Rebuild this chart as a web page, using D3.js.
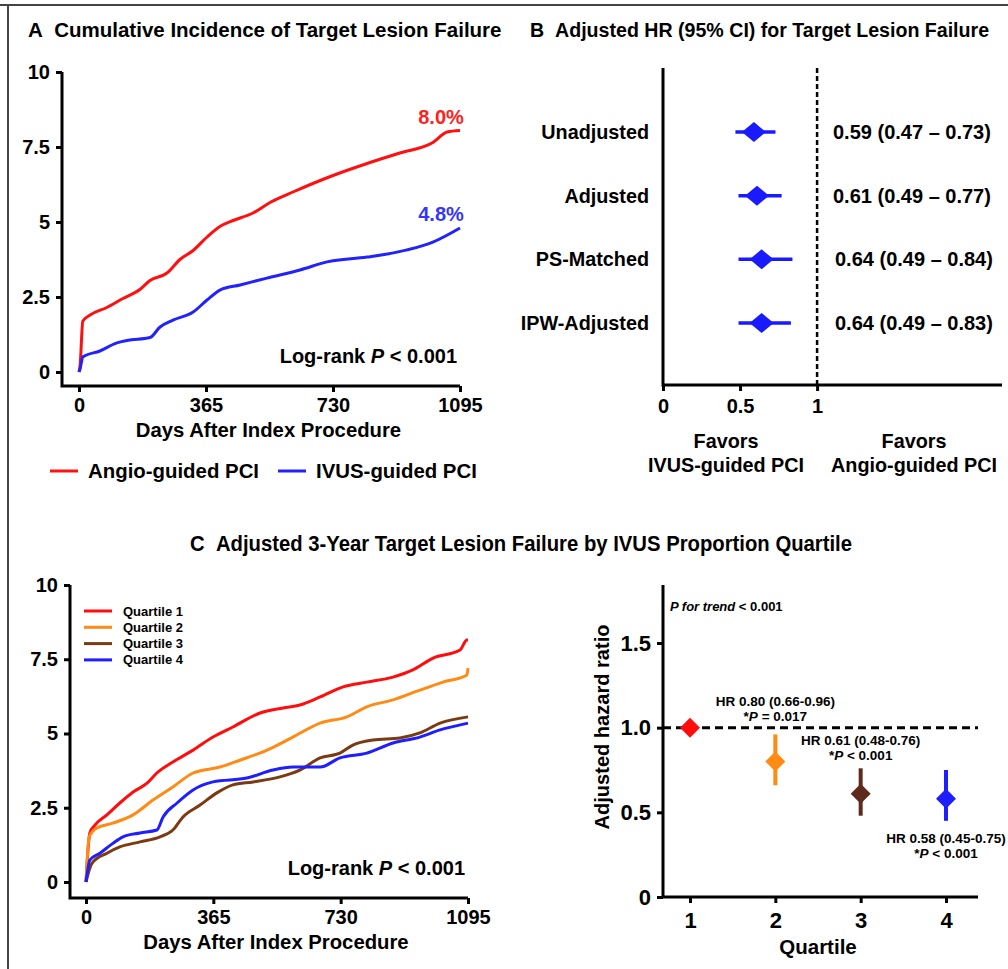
<!DOCTYPE html>
<html>
<head>
<meta charset="utf-8">
<script src="https://cdn.jsdelivr.net/npm/d3@7/dist/d3.min.js"></script>
<style>
  body { margin: 0; background: #fff; }
  svg { display: block; font-family: "Liberation Sans", Arial, sans-serif; font-weight: bold; }
  .axis path { display: none; }
  .axis line { stroke: #000; stroke-width: 3; }
  .axis text { fill: #000; font-weight: bold; }
</style>
</head>
<body>
<svg id="chart"></svg>
<script>
// ---- data ----
const angioDays = [0, 3, 11, 32, 80, 126, 175, 204, 253, 290, 328, 368, 405, 443, 500, 549, 615, 730, 828, 922, 1017, 1058, 1095];
const angioTLF = [0, 0.2, 1.7, 1.9, 2.15, 2.45, 2.75, 3.05, 3.3, 3.75, 4.05, 4.5, 4.85, 5.05, 5.3, 5.65, 6.0, 6.55, 6.95, 7.3, 7.65, 8.0, 8.05];
const ivusDays = [0, 3, 11, 60, 109, 138, 204, 233, 270, 328, 368, 405, 463, 540, 635, 713, 828, 943, 1017, 1095];
const ivusTLF = [0, 0.1, 0.5, 0.7, 0.97, 1.05, 1.15, 1.5, 1.73, 2.0, 2.4, 2.73, 2.9, 3.13, 3.4, 3.67, 3.83, 4.07, 4.33, 4.8];

const forestLabels = ['Unadjusted', 'Adjusted', 'PS-Matched', 'IPW-Adjusted'];
const forestHR = [0.59, 0.61, 0.64, 0.64];
const forestLo = [0.47, 0.49, 0.49, 0.49];
const forestHi = [0.73, 0.77, 0.84, 0.83];

const quartileNames = ['Quartile 1', 'Quartile 2', 'Quartile 3', 'Quartile 4'];
const quartileColors = ['#ff0d0d', '#ff8a14', '#7a3b12', '#1e1eff'];
const q1Days = [0, 11, 26, 60, 97, 135, 175, 203, 249, 307, 364, 421, 499, 565, 613, 671, 737, 805, 880, 937, 995, 1072, 1092, 1095];
const q1TLF = [0, 1.65, 1.92, 2.26, 2.66, 3.03, 3.33, 3.67, 4.04, 4.44, 4.88, 5.22, 5.69, 5.86, 5.96, 6.23, 6.57, 6.73, 6.9, 7.14, 7.54, 7.81, 8.15, 8.15];
const q2Days = [0, 9, 31, 77, 135, 192, 249, 307, 384, 441, 519, 593, 671, 748, 805, 880, 957, 1023, 1092, 1095];
const q2TLF = [0, 1.52, 1.82, 1.98, 2.26, 2.76, 3.2, 3.67, 3.87, 4.1, 4.44, 4.88, 5.35, 5.56, 5.9, 6.13, 6.46, 6.73, 6.97, 7.2];
const q3Days = [0, 17, 60, 97, 155, 212, 249, 278, 327, 375, 421, 479, 556, 613, 671, 728, 765, 823, 900, 957, 1015, 1095];
const q3TLF = [0, 0.63, 0.97, 1.18, 1.35, 1.52, 1.75, 2.19, 2.59, 3.0, 3.27, 3.37, 3.54, 3.77, 4.18, 4.34, 4.61, 4.78, 4.85, 5.02, 5.35, 5.56];
const q4Days = [0, 11, 40, 77, 106, 155, 203, 221, 261, 307, 364, 461, 536, 593, 671, 728, 805, 880, 957, 1015, 1095];
const q4TLF = [0, 0.74, 0.97, 1.3, 1.52, 1.65, 1.75, 2.19, 2.66, 3.1, 3.37, 3.5, 3.77, 3.87, 3.87, 4.18, 4.34, 4.68, 4.88, 5.12, 5.35];

const quartiles = [1, 2, 3, 4];
const quartileHR = [1.0, 0.80, 0.61, 0.58];
const quartileLo = [null, 0.66, 0.48, 0.45];
const quartileHi = [null, 0.96, 0.76, 0.75];
const quartileNotes = [null, ['HR 0.80 (0.66-0.96)', ' = 0.017'], ['HR 0.61 (0.48-0.76)', ' < 0.001'], ['HR 0.58 (0.45-0.75)', ' < 0.001']];

const dayTicks = [0, 365, 730, 1095];
const pctTicks = [0, 2.5, 5, 7.5, 10];

// ---- page ----
let width = 1008, height = 969;
let svg = d3.select('#chart').attr('width', width).attr('height', height);
svg.append('rect').attr('width', width).attr('height', height).attr('fill', '#fff');
// frame
svg.append('line').attr('x1', 0).attr('x2', width).attr('y1', 5).attr('y2', 5).attr('stroke', '#444').attr('stroke-width', 2);
svg.append('line').attr('x1', 8).attr('x2', 8).attr('y1', 5).attr('y2', height).attr('stroke', '#444').attr('stroke-width', 2);

function frameAxes(g, x0, yTop, yBase, xRight) {
  g.append('path')
    .attr('d', `M${x0},${yTop}V${yBase}H${xRight}`)
    .attr('fill', 'none').attr('stroke', '#000').attr('stroke-width', 3);
}

function kmPanel(opt) {
  let x = d3.scaleLinear().domain([0, 1095]).range(opt.xRange),
    y = d3.scaleLinear().domain([0, 10]).range(opt.yRange);
  let g = svg.append('g');
  g.append('g').attr('class', 'axis')
    .attr('transform', `translate(${opt.axisX},0)`)
    .call(d3.axisLeft(y).tickValues(pctTicks).tickSize(6).tickPadding(6).tickFormat(d => String(d)))
    .selectAll('text').style('font-size', '20px');
  g.append('g').attr('class', 'axis')
    .attr('transform', `translate(0,${opt.axisY})`)
    .call(d3.axisBottom(x).tickValues(dayTicks).tickSize(6).tickPadding(6).tickFormat(d => String(d)))
    .selectAll('text').style('font-size', '20px');
  frameAxes(g, opt.axisX, opt.yRange[1], opt.axisY, opt.xRange[1]);
  let line = d3.line().x(d => x(d[0])).y(d => y(d[1])).curve(d3.curveMonotoneX);
  opt.series.forEach(s => {
    g.append('path')
      .datum(d3.zip(s.days, s.vals))
      .attr('d', line)
      .attr('fill', 'none')
      .attr('stroke', s.color)
      .attr('stroke-width', 3)
      .attr('stroke-linejoin', 'round');
  });
  g.append('text')
    .attr('x', (opt.xRange[0] + opt.xRange[1]) / 2 - 1)
    .attr('y', opt.axisY + 51)
    .attr('text-anchor', 'middle')
    .style('font-size', '20.3px')
    .text('Days After Index Procedure');
  let lr = g.append('text')
    .attr('x', opt.xRange[1] - 3)
    .attr('y', opt.logRankY)
    .attr('text-anchor', 'end')
    .style('font-size', '20px');
  lr.append('tspan').text('Log-rank ');
  lr.append('tspan').style('font-style', 'italic').text('P');
  lr.append('tspan').text(' < 0.001');
  return { x: x, y: y, g: g };
}

// ---- panel A ----
svg.append('text').attr('x', 28).attr('y', 37).style('font-size', '20.5px')
  .text('A\u00a0\u00a0Cumulative Incidence of Target Lesion Failure');

let panelA = kmPanel({
  xRange: [79, 460], yRange: [372, 72], axisX: 62, axisY: 386, logRankY: 363,
  series: [
    { days: angioDays, vals: angioTLF, color: '#ff1010' },
    { days: ivusDays, vals: ivusTLF, color: '#2222ff' }
  ]
});
panelA.g.append('text')
  .attr('x', panelA.x(1095) - 19).attr('y', panelA.y(angioTLF[angioTLF.length - 1]) - 7)
  .attr('text-anchor', 'middle').attr('fill', '#ff2020').style('font-size', '20px')
  .text('8.0%');
panelA.g.append('text')
  .attr('x', panelA.x(1095) - 19).attr('y', panelA.y(ivusTLF[ivusTLF.length - 1]) - 7)
  .attr('text-anchor', 'middle').attr('fill', '#3535ff').style('font-size', '20px')
  .text('4.8%');

let legA = svg.append('g');
[['Angio-guided PCI', '#ff1010', 50], ['IVUS-guided PCI', '#2222ff', 278]].forEach(l => {
  legA.append('line').attr('x1', l[2]).attr('x2', l[2] + 28).attr('y1', 471).attr('y2', 471)
    .attr('stroke', l[1]).attr('stroke-width', 3);
  legA.append('text').attr('x', l[2] + 38).attr('y', 478).style('font-size', '20.4px').text(l[0]);
});

// ---- panel B ----
svg.append('text').attr('x', 530).attr('y', 37).style('font-size', '19.6px')
  .text('B\u00a0\u00a0Adjusted HR (95% CI) for Target Lesion Failure');

let xB = d3.scaleLinear().domain([0, 2.2]).range([663, 1002]),
  yB = d3.scalePoint().domain(forestLabels).range([132, 323]);
let gB = svg.append('g');
gB.append('g').attr('class', 'axis')
  .attr('transform', 'translate(0,385)')
  .call(d3.axisBottom(xB).tickValues([0, 0.5, 1]).tickSize(6).tickPadding(8).tickFormat(d => String(d)))
  .selectAll('text').style('font-size', '20px');
frameAxes(gB, xB(0), 68, 385, xB(2.2));
gB.append('line').attr('x1', xB(1)).attr('x2', xB(1)).attr('y1', 68).attr('y2', 385)
  .attr('stroke', '#000').attr('stroke-width', 2.5).attr('stroke-dasharray', '5,3');

forestLabels.forEach((lab, i) => {
  let cy = yB(lab), cx = xB(forestHR[i]);
  gB.append('text').attr('x', 649).attr('y', cy + 7).attr('text-anchor', 'end')
    .style('font-size', '19.8px').text(lab);
  gB.append('line').attr('x1', xB(forestLo[i])).attr('x2', xB(forestHi[i]))
    .attr('y1', cy).attr('y2', cy).attr('stroke', '#1a1aff').attr('stroke-width', 3.5);
  gB.append('path').attr('d', `M${cx - 12},${cy}L${cx},${cy - 10}L${cx + 12},${cy}L${cx},${cy + 10}Z`)
    .attr('fill', '#1a1aff');
  gB.append('text').attr('x', i >= 2 ? 835 : 833).attr('y', cy + 7).style('font-size', '20px')
    .text(`${forestHR[i].toFixed(2)} (${forestLo[i].toFixed(2)} \u2013 ${forestHi[i].toFixed(2)})`);
});
[['Favors', 'IVUS-guided PCI', 726], ['Favors', 'Angio-guided PCI', 914]].forEach(f => {
  let t = gB.append('text').attr('text-anchor', 'middle').style('font-size', '19.8px');
  t.append('tspan').attr('x', f[2]).attr('y', 448).text(f[0]);
  t.append('tspan').attr('x', f[2]).attr('y', 472).text(f[1]);
});

// ---- panel C ----
svg.append('text').attr('x', 190).attr('y', 551)
  .attr('textLength', 662).attr('lengthAdjust', 'spacingAndGlyphs')
  .style('font-size', '21.5px')
  .text('C\u00a0\u00a0Adjusted 3-Year Target Lesion Failure by IVUS Proportion Quartile');

let panelC = kmPanel({
  xRange: [86, 468], yRange: [882, 585], axisX: 70, axisY: 898, logRankY: 875,
  series: [
    { days: q1Days, vals: q1TLF, color: quartileColors[0] },
    { days: q2Days, vals: q2TLF, color: quartileColors[1] },
    { days: q3Days, vals: q3TLF, color: quartileColors[2] },
    { days: q4Days, vals: q4TLF, color: quartileColors[3] }
  ]
});
quartileNames.forEach((n, i) => {
  let yy = 611 + i * 16.3;
  panelC.g.append('line').attr('x1', 84).attr('x2', 112).attr('y1', yy).attr('y2', yy)
    .attr('stroke', quartileColors[i]).attr('stroke-width', 3);
  panelC.g.append('text').attr('x', 123).attr('y', yy + 4.5).style('font-size', '13px').text(n);
});

// ---- panel C right: HR by quartile ----
let xQ = d3.scaleLinear().domain([1, 4]).range([690, 946]),
  yQ = d3.scaleLinear().domain([0, 1.5]).range([897, 643]);
let qFill = ['#ff0d0d', '#ff8a14', '#5e2a1c', '#1e1eff'];
let gQ = svg.append('g');
gQ.append('g').attr('class', 'axis')
  .attr('transform', 'translate(663,0)')
  .call(d3.axisLeft(yQ).tickValues([0, 0.5, 1, 1.5]).tickSize(6).tickPadding(6)
    .tickFormat(d => d === 0 ? '0' : d3.format('.1f')(d)))
  .selectAll('text').style('font-size', '22px');
gQ.append('g').attr('class', 'axis')
  .attr('transform', 'translate(0,897)')
  .call(d3.axisBottom(xQ).tickValues(quartiles).tickSize(6).tickPadding(9).tickFormat(d => String(d)))
  .selectAll('text').style('font-size', '22px');
frameAxes(gQ, 663, 585, 897, 978);
gQ.append('line').attr('x1', 663).attr('x2', 978).attr('y1', yQ(1)).attr('y2', yQ(1))
  .attr('stroke', '#000').attr('stroke-width', 3).attr('stroke-dasharray', '8,5');
gQ.append('text').attr('transform', 'translate(609,727) rotate(-90)')
  .attr('text-anchor', 'middle').attr('textLength', 205).attr('lengthAdjust', 'spacingAndGlyphs')
  .style('font-size', '21px').text('Adjusted hazard ratio');
gQ.append('text').attr('x', 818).attr('y', 954).attr('text-anchor', 'middle')
  .style('font-size', '20.5px').text('Quartile');
let pt = gQ.append('text').attr('x', 670).attr('y', 611).style('font-size', '13px');
pt.append('tspan').style('font-style', 'italic').text('P for trend');
pt.append('tspan').text(' < 0.001');

quartiles.forEach((q, i) => {
  let cx = xQ(q), cy = yQ(quartileHR[i]);
  if (quartileLo[i] !== null) {
    gQ.append('line').attr('x1', cx).attr('x2', cx)
      .attr('y1', yQ(quartileLo[i])).attr('y2', yQ(quartileHi[i]))
      .attr('stroke', qFill[i]).attr('stroke-width', 4);
  }
  gQ.append('path').attr('d', `M${cx - 10},${cy}L${cx},${cy - 10}L${cx + 10},${cy}L${cx},${cy + 10}Z`)
    .attr('fill', qFill[i]);
});
let noteY = [null, yQ(1.0) - 22, yQ(0.76) - 23, yQ(0.45) + 22];
quartileNotes.forEach((n, i) => {
  if (!n) return;
  let t = gQ.append('text').attr('text-anchor', 'middle').style('font-size', '13.5px');
  t.append('tspan').attr('x', xQ(quartiles[i])).attr('y', noteY[i]).text(n[0]);
  let p = t.append('tspan').attr('x', xQ(quartiles[i])).attr('y', noteY[i] + 15);
  p.append('tspan').text('*');
  p.append('tspan').style('font-style', 'italic').text('P');
  p.append('tspan').text(n[1]);
});
</script>
</body>
</html>
